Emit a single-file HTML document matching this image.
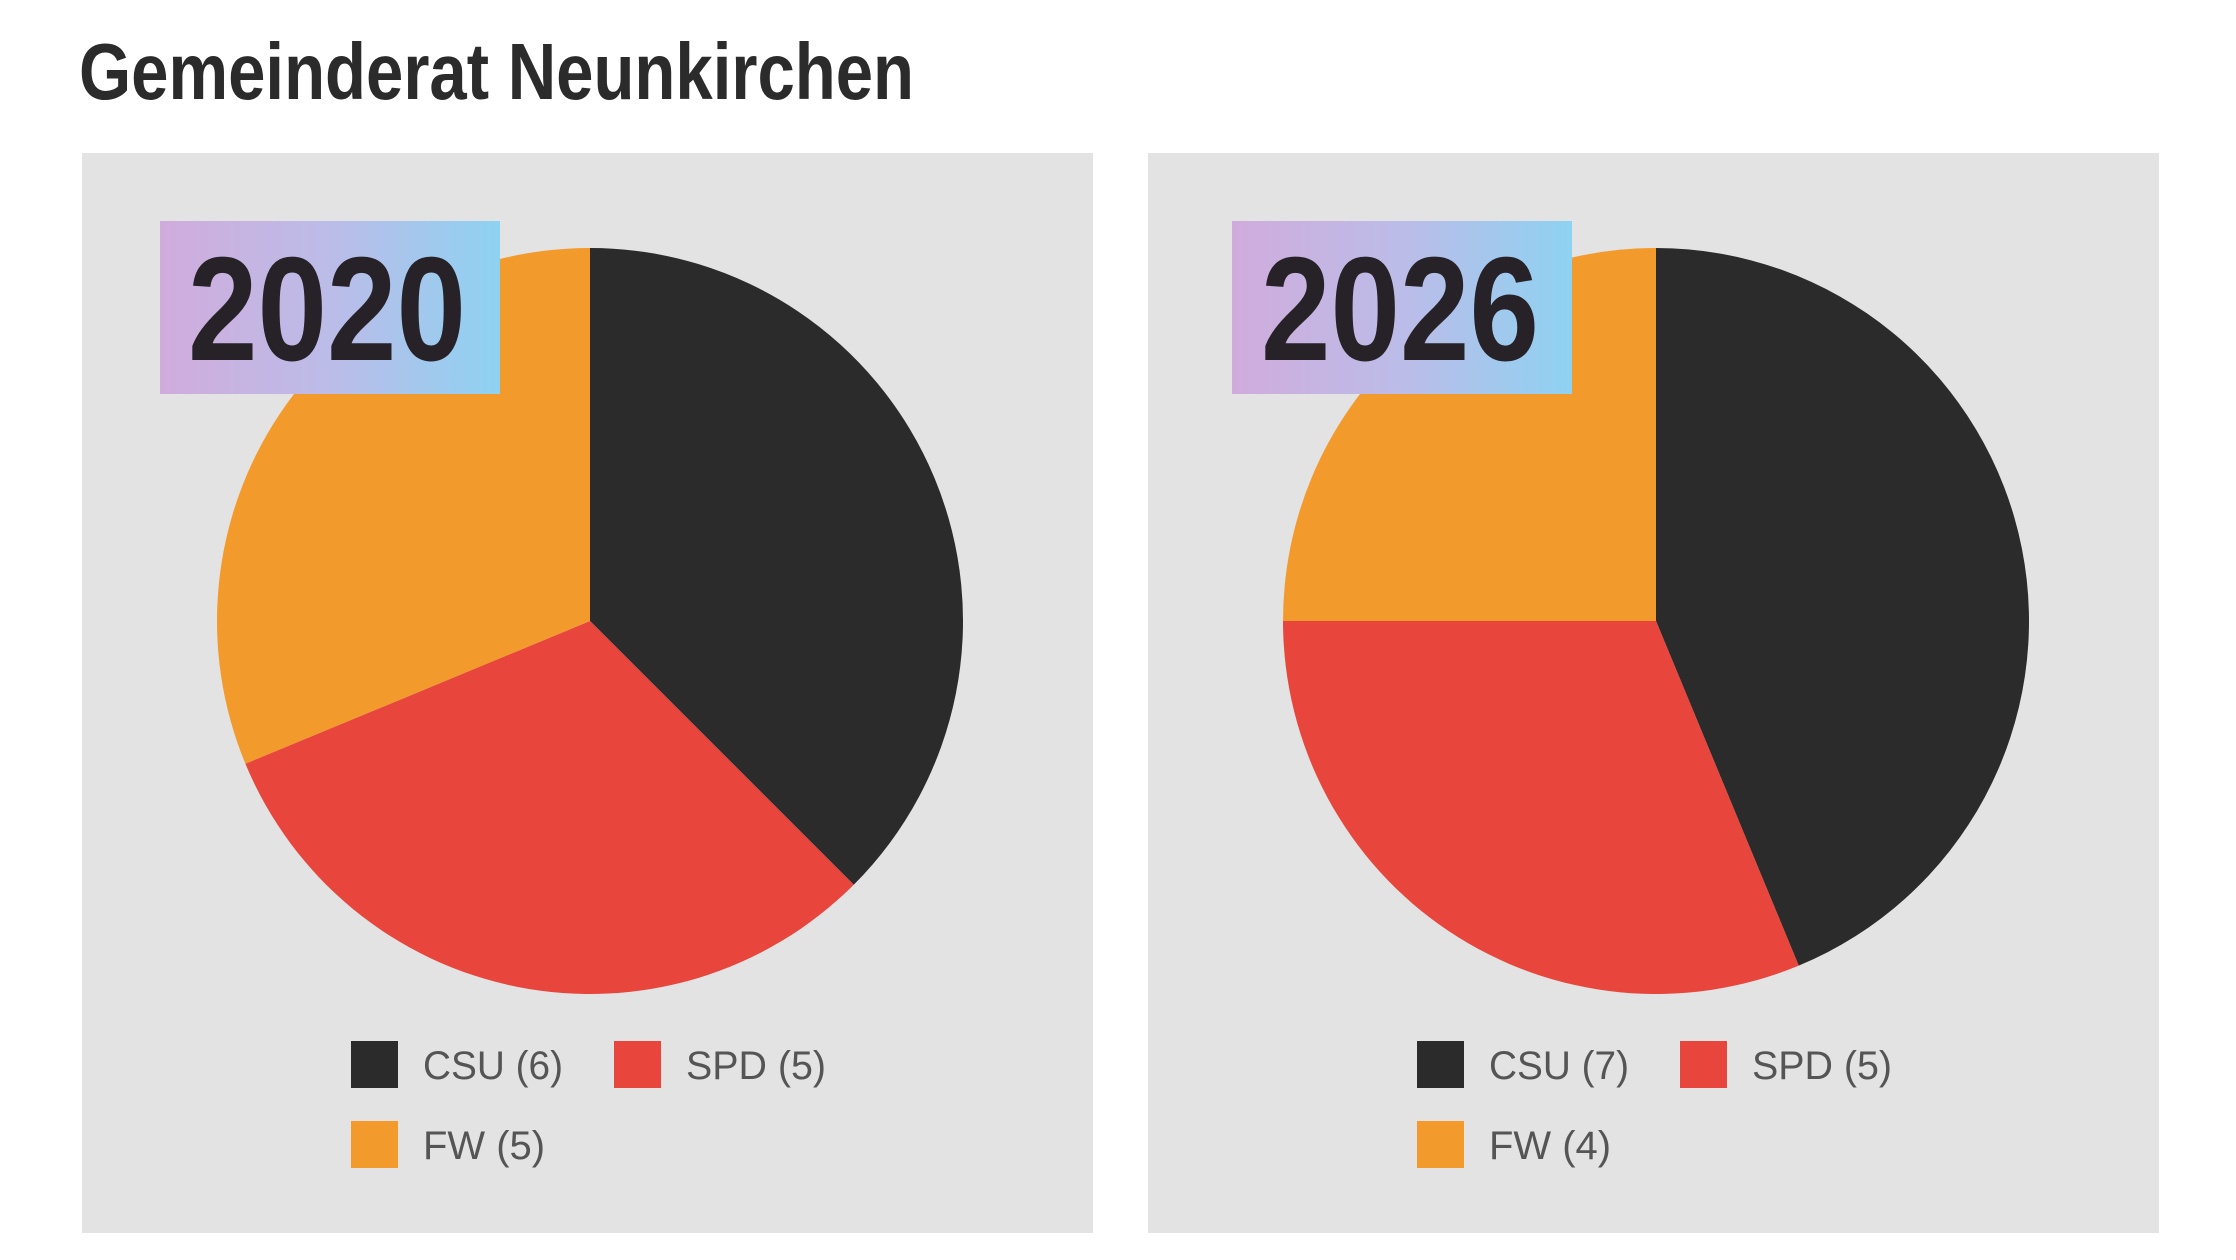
<!DOCTYPE html>
<html><head><meta charset="utf-8"><style>
html,body{margin:0;padding:0;background:#fff;}
svg{display:block;}
</style></head><body>
<svg id="chart" width="2236" height="1260" viewBox="0 0 2236 1260" xmlns="http://www.w3.org/2000/svg">
<defs>
<linearGradient id="yg" x1="0" x2="1" y1="0" y2="0">
<stop offset="0" stop-color="#d0acdc"/><stop offset="0.5" stop-color="#bcbce8"/><stop offset="1" stop-color="#8ed2f2"/>
</linearGradient>
</defs>
<rect width="2236" height="1260" fill="#ffffff"/>
<text x="79" y="99" font-family="Liberation Sans Narrow, Liberation Sans, sans-serif" font-weight="bold" font-size="80" fill="#2b2b2b" textLength="835" lengthAdjust="spacingAndGlyphs">Gemeinderat Neunkirchen</text>
<g id="panels"></g>
</svg>
<script>
const years = ["2020", "2026"];
const parties = ["CSU", "SPD", "FW"];
const seats2020 = [6, 5, 5];
const seats2026 = [7, 5, 4];
const colors = ["#2b2b2b", "#e8463d", "#f39a2d"];

const NS = "http://www.w3.org/2000/svg";
const root = document.getElementById("panels");
const seatSets = [seats2020, seats2026];
function mk(tag, attrs, parent){const e=document.createElementNS(NS,tag);for(const k in attrs)e.setAttribute(k,attrs[k]);parent.appendChild(e);return e;}
function angleScale(v,total){return v/total*Math.PI*2;}
years.forEach((yr,pi)=>{
  const ox = pi*1066;
  const g = mk("g",{},root);
  
  
  const bg = mk("rect",{x:82+ox,y:153,width:1011,height:1080,fill:"#e3e3e3"},g);
  
  
  const cx=590+ox, cy=621, r=373;
  const vals=seatSets[pi];
  const total=vals.reduce((a,b)=>a+b,0);
  let a0=0;
  vals.forEach((v,i)=>{
    const a1=a0+angleScale(v,total);
    const x0=cx+r*Math.sin(a0), y0=cy-r*Math.cos(a0);
    const x1=cx+r*Math.sin(a1), y1=cy-r*Math.cos(a1);
    const large=(a1-a0)>Math.PI?1:0;
    const p=mk("path",{d:`M${cx},${cy} L${x0},${y0} A${r},${r} 0 ${large} 1 ${x1},${y1} Z`,fill:colors[i]},g);
    
    
    a0=a1;
  });
  const box=mk("rect",{x:160+ox+(pi?6:0),y:221,width:340,height:173,fill:"url(#yg)"},g);
  
  
  const yt=mk("text",{x:188+ox+(pi?7:0),y:360,"font-family":"Liberation Sans Narrow, Liberation Sans, sans-serif","font-weight":"bold","font-size":"148",fill:"#262228",textLength:"278",lengthAdjust:"spacingAndGlyphs"},g);
  yt.textContent=yr;
  
  
  const pos=[[351,1041],[614,1041],[351,1121]];
  vals.forEach((v,i)=>{
    const sw=mk("rect",{x:pos[i][0]+ox,y:pos[i][1],width:47,height:47,fill:colors[i]},g);
    
    
    const label=parties[i]+" ("+v+")";
    const t=mk("text",{x:pos[i][0]+ox+72,y:pos[i][1]+38,"font-family":"Liberation Sans Narrow, Liberation Sans, sans-serif","font-size":"40",fill:"#555555",textLength:String(i==2?122:140),lengthAdjust:"spacingAndGlyphs"},g);
    t.textContent=label;
    
    
  });
});
</script>
</body></html>
